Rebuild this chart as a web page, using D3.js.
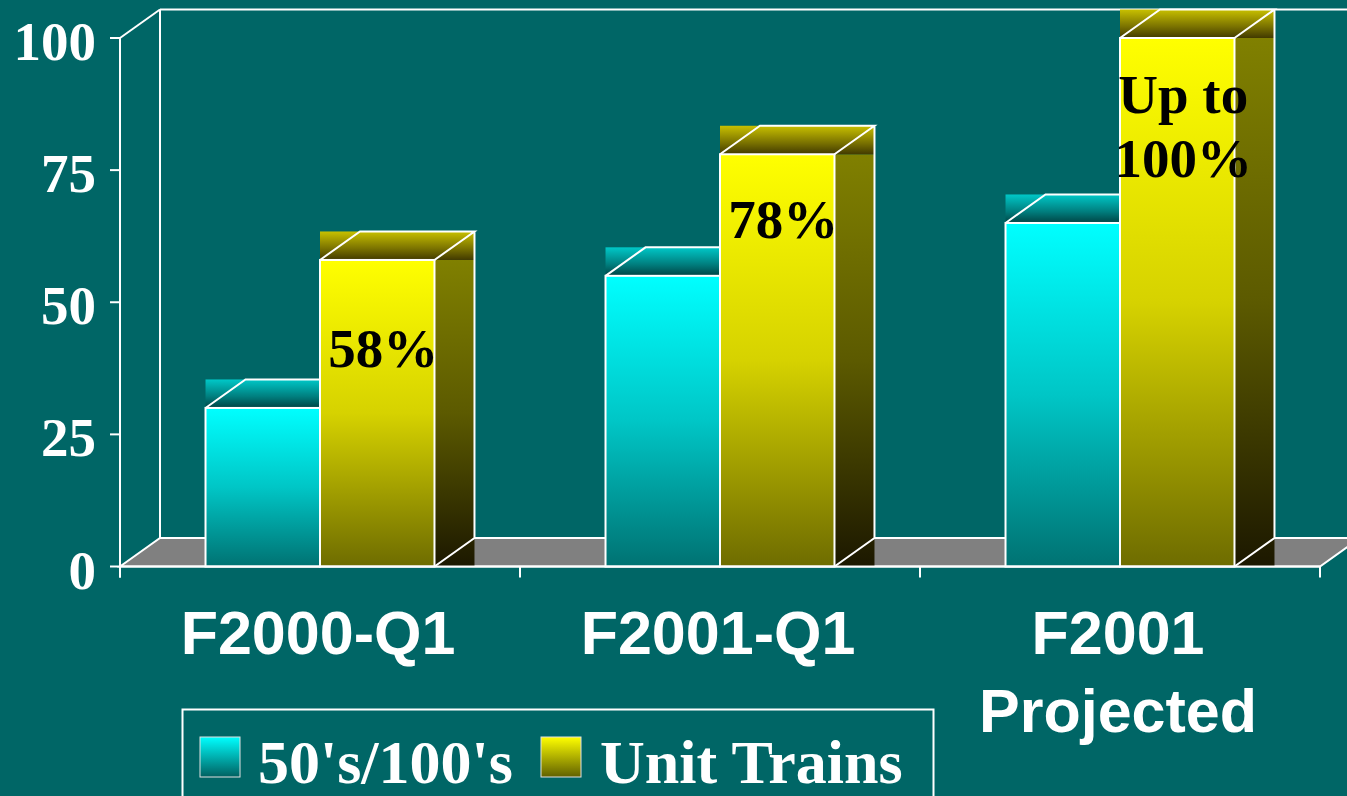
<!DOCTYPE html>
<html>
<head>
<meta charset="utf-8">
<script src="https://cdn.jsdelivr.net/npm/d3@7"></script>
<style>
  html, body { margin: 0; padding: 0; background: #006666; overflow: hidden; }
  svg { display: block; }
</style>
</head>
<body>
<svg id="chart" width="1347" height="796"></svg>
<script>
// ---------------- data ----------------
const categories = ["F2000-Q1", "F2001-Q1", "F2001 Projected"];
const categoryLines = [["F2000-Q1"], ["F2001-Q1"], ["F2001", "Projected"]];
const seriesNames = ["50's/100's", "Unit Trains"];
const values5000s = [30, 55, 65];
const valuesUnitTrains = [58, 78, 100];
const yTickValues = [0, 25, 50, 75, 100];
const barLabelLines = [["58%"], ["78%"], ["Up to", "100%"]];
const barLabelAt = [[37.7], [62.2], [85.8, 73.7]];   // value (y-units) of each label line baseline

// ---------------- layout ----------------
const W = 1347, H = 796;
const bg = "#006666";
const DX = 40, DY = -28.5;           // 3-D depth offset
const svg = d3.select("#chart");
svg.append("rect").attr("width", W).attr("height", H).attr("fill", bg);

const x = d3.scaleBand().domain(categories).range([120, 1320]).padding(0);
const xs = d3.scaleBand().domain(seriesNames).range([0, x.bandwidth()])
  .paddingInner(0).paddingOuter(0.747);
const y = d3.scaleLinear().domain([0, 100]).range([566.5, 38]);

const defs = svg.append("defs");
function grad(id, stops) {
  const g = defs.append("linearGradient").attr("id", id)
    .attr("x1", 0).attr("y1", 0).attr("x2", 0).attr("y2", 1);
  stops.forEach(([o, c]) => g.append("stop").attr("offset", o).attr("stop-color", c));
}
grad("cyanFront", [[0, "#00ffff"], [0.5, "#00c6c6"], [1, "#007272"]]);
grad("cyanTop", [[0, "#00c8c8"], [0.6, "#007e7e"], [1, "#004444"]]);
grad("cyanSide", [[0, "#008080"], [1, "#002020"]]);
grad("yelFront", [[0, "#ffff00"], [0.5, "#d6d200"], [1, "#6e6c00"]]);
grad("yelTop", [[0, "#c8c000"], [0.6, "#7a7200"], [1, "#423a00"]]);
grad("yelSide", [[0, "#808000"], [0.5, "#5c5a00"], [1, "#1c1800"]]);
grad("cyanSwatch", [[0, "#00ffff"], [1, "#006060"]]);
grad("yelSwatch", [[0, "#ffff00"], [1, "#606000"]]);

const WL = "#ffffff", SW = 2;
const x0 = x.range()[0], x1 = x.range()[1];
const yb = y(0), yt = y(100);

// walls & floor
const wall = svg.append("g").attr("fill", "none").attr("stroke", WL).attr("stroke-width", SW);
wall.append("path").attr("d", `M${x0},${yt}L${x0 + DX},${yt + DY}`);
wall.append("path").attr("d", `M${x0 + DX},${yt + DY}L${x0 + DX},${yb + DY}`);
wall.append("path").attr("d", `M${x0 + DX},${yt + DY}L${x1 + DX},${yt + DY}`);
wall.append("path").attr("d", `M${x1 + DX},${yt + DY}L${x1 + DX},${yb + DY}`);
svg.append("path")
  .attr("d", `M${x0},${yb}L${x0 + DX},${yb + DY}L${x1 + DX},${yb + DY}L${x1},${yb}Z`)
  .attr("fill", "#808080").attr("stroke", WL).attr("stroke-width", SW);

// bars
const seriesData = [values5000s, valuesUnitTrains];
const fills = [
  { front: "url(#cyanFront)", top: "url(#cyanTop)", side: "url(#cyanSide)" },
  { front: "url(#yelFront)", top: "url(#yelTop)", side: "url(#yelSide)" }
];
const barsG = svg.append("g");
categories.forEach((c, ci) => {
  seriesNames.forEach((s, si) => {
    const v = seriesData[si][ci];
    const bx = x(c) + xs(s), bw = xs.bandwidth();
    const by = y(v);
    const g = barsG.append("g");
    g.append("rect").attr("x", bx + bw).attr("y", by).attr("width", DX).attr("height", yb - by)
      .attr("fill", fills[si].side);
    g.append("rect").attr("x", bx).attr("y", by + DY).attr("width", bw + DX).attr("height", -DY)
      .attr("fill", fills[si].top);
    g.append("rect").attr("x", bx).attr("y", by).attr("width", bw).attr("height", yb - by)
      .attr("fill", fills[si].front).attr("stroke", WL).attr("stroke-width", SW);
    g.append("path")
      .attr("d", `M${bx},${by}L${bx + DX},${by + DY}L${bx + bw + DX},${by + DY}L${bx + bw},${by}` +
                 `M${bx + bw + DX},${by + DY}L${bx + bw + DX},${yb + DY}L${bx + bw},${yb}`)
      .attr("fill", "none").attr("stroke", WL).attr("stroke-width", SW);
  });
});

// front axis lines
const ax = svg.append("g").attr("stroke", WL).attr("stroke-width", SW).attr("fill", "none");
ax.append("path").attr("d", `M${x0},${yt}L${x0},${yb + 11}`);
ax.append("path").attr("d", `M${x0},${yb}L${x1},${yb}`);
yTickValues.forEach(t => ax.append("path").attr("d", `M${x0 - 10},${y(t)}L${x0},${y(t)}`));
const bounds = categories.map(c => x(c)).concat([x1]);
bounds.forEach(b => ax.append("path").attr("d", `M${b},${yb}L${b},${yb + 11}`));

// y tick labels
svg.append("g").selectAll("text").data(yTickValues).join("text")
  .attr("x", 96).attr("y", d => y(d) + 22)
  .attr("text-anchor", "end")
  .attr("font-family", "'Liberation Serif', 'Times New Roman', serif")
  .attr("font-weight", "bold").attr("font-size", 55).attr("fill", "#fff")
  .text(d => d);

// category labels
categories.forEach((c, ci) => {
  categoryLines[ci].forEach((ln, li) => {
    svg.append("text")
      .attr("x", x(c) + x.bandwidth() / 2 - 2).attr("y", 654 + li * 77.5)
      .attr("text-anchor", "middle")
      .attr("font-family", "'Liberation Sans', Arial, sans-serif")
      .attr("font-weight", "bold").attr("font-size", 61).attr("fill", "#fff")
      .text(ln);
  });
});

// bar annotations on unit-train bars
categories.forEach((c, ci) => {
  const cx = x(c) + xs(seriesNames[1]) + xs.bandwidth() / 2 + 6;
  barLabelLines[ci].forEach((ln, li) => {
    svg.append("text")
      .attr("x", cx).attr("y", y(barLabelAt[ci][li]))
      .attr("text-anchor", "middle")
      .attr("font-family", "'Liberation Serif', 'Times New Roman', serif")
      .attr("font-weight", "bold").attr("font-size", 55).attr("fill", "#000")
      .text(ln);
  });
});

// legend
const lg = svg.append("g");
lg.append("rect").attr("x", 182.5).attr("y", 709.5).attr("width", 751).attr("height", 120)
  .attr("fill", "none").attr("stroke", WL).attr("stroke-width", SW);
const legendItems = [
  { name: seriesNames[0], sx: 200, tx: 258, fill: "url(#cyanSwatch)" },
  { name: seriesNames[1], sx: 541, tx: 600, fill: "url(#yelSwatch)" }
];
legendItems.forEach(it => {
  lg.append("rect").attr("x", it.sx).attr("y", 737).attr("width", 40).attr("height", 40)
    .attr("fill", it.fill).attr("stroke", "#e0e0e0").attr("stroke-width", 1);
  lg.append("text").attr("x", it.tx).attr("y", 783)
    .attr("font-family", "'Liberation Serif', 'Times New Roman', serif")
    .attr("font-weight", "bold").attr("font-size", 62).attr("fill", "#fff")
    .text(it.name);
});
</script>
</body>
</html>
